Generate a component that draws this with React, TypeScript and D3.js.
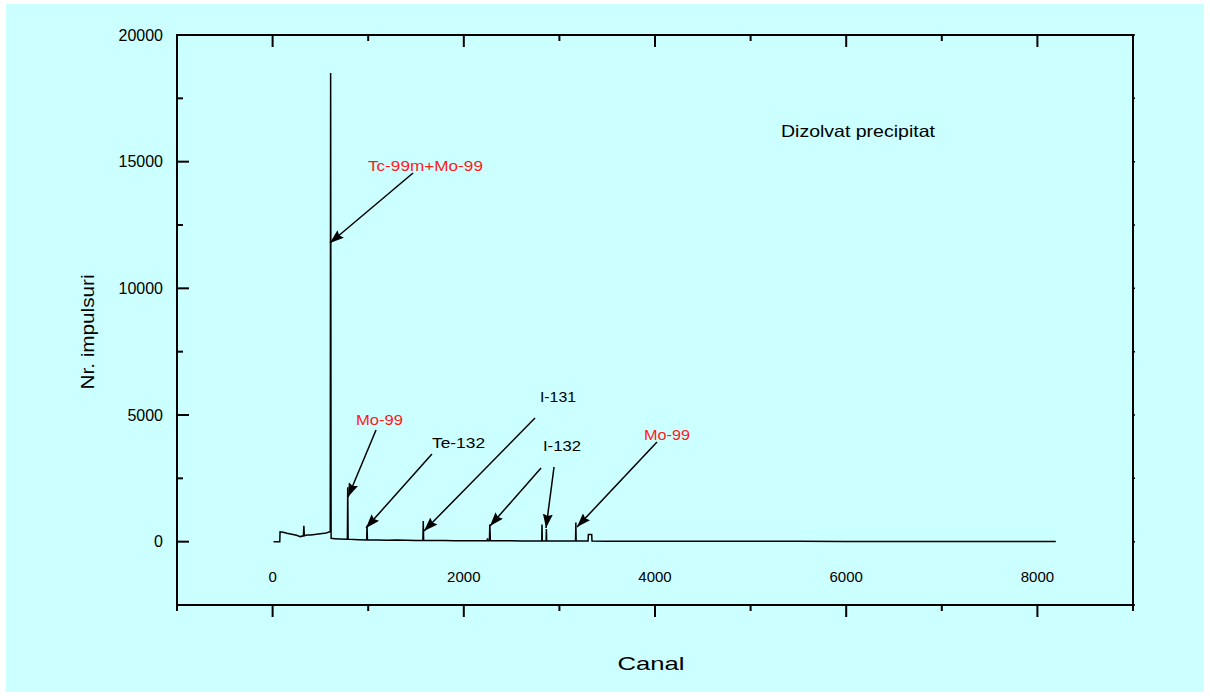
import * as d3 from 'd3';
import React from 'react';

// gamma spectrum
const channels = [
  10, 75, 78, 110, 150, 200, 250, 290, 322, 327, 332, 360, 400, 440, 480, 520, 560, 590, 603,
  607, 612, 650, 700, 782, 786, 790, 850, 900, 984, 988, 992, 1100, 1200, 1300, 1400, 1500,
  1572, 1576, 1580, 1700, 1800, 1900, 2000, 2100, 2200, 2245, 2248, 2251, 2268, 2272, 2278,
  2400, 2500, 2600, 2700, 2815, 2818, 2821, 2861, 2864, 2867, 3000, 3100, 3169, 3172, 3175,
  3300, 3303, 3338, 3341, 3500, 4000, 4500, 5000, 5500, 6000, 6500, 7000, 7500, 8000, 8192,
];
const counts = [
  0, 0, 390, 370, 330, 290, 250, 200, 230, 630, 230, 260, 260, 280, 300, 320, 340, 380, 400,
  18500, 130, 120, 110, 100, 2150, 100, 90, 80, 70, 640, 65, 70, 60, 65, 55, 50,
  50, 820, 50, 45, 50, 40, 40, 40, 40, 40, 130, 40, 40, 680, 50,
  35, 40, 30, 30, 30, 680, 30, 30, 500, 30, 30, 30, 30, 760, 30,
  30, 280, 280, 25, 20, 15, 15, 12, 12, 10, 10, 10, 10, 10, 10,
];

const xMajorTicks = [0, 2000, 4000, 6000, 8000];
const xMinorTicks = [-1000, 1000, 3000, 5000, 7000, 9000];
const yMajorTicks = [0, 5000, 10000, 15000, 20000];
const yMinorTicks = [-2500, 2500, 7500, 12500, 17500];

// peak labels: text, colour, position (channel, counts), rendered width
const labelTexts = ['Tc-99m+Mo-99', 'Mo-99', 'Te-132', 'I-131', 'I-132', 'Mo-99'];
const labelColors = ['#ff1a1a', '#ff1a1a', '#000', '#000', '#000', '#ff1a1a'];
const labelPositions = [
  [1599, 14630], [1118, 4605], [1945, 3697], [2985, 5513], [3027, 3579], [4126, 4013],
];
const labelWidths = [115, 47, 53, 36, 38, 46];
// arrows: from (channel, counts) to (channel, counts)
const arrows = [
  [1469, 14552, 600, 11789],
  [1082, 4408, 789, 1763],
  [1667, 3460, 977, 539],
  [2745, 4881, 1584, 421],
  [2808, 2908, 2274, 618],
  [2944, 2947, 2860, 539],
  [4021, 3934, 3184, 579],
];

const W = 1210;
const H = 696;
const left = 177;
const right = 1133;
const top = 35;
const bottom = 605;

export default function App() {
  const x = d3.scaleLinear().domain([-1000, 9000]).range([left, right]);
  const y = d3.scaleLinear().domain([-2500, 20000]).range([bottom, top]);

  const line = d3
    .line<number>()
    .x((_, i) => x(channels[i]))
    .y((d) => y(d));

  const font = 'Liberation Sans, Arial, sans-serif';

  return (
    <div style={{ position: 'absolute', left: 0, top: 0 }}>
      <svg width={W} height={H} style={{ display: 'block', background: '#fff' }}>
        <rect x={6} y={4} width={W - 12} height={H - 8} fill='#ccffff' />
        <defs>
          <marker id='head' viewBox='0 0 14 10' refX={14} refY={5} markerWidth={14} markerHeight={10}
            markerUnits='userSpaceOnUse' orient='auto'>
            <path d='M0,0 L14,5 L0,10 L2,5 Z' fill='#000' />
          </marker>
        </defs>

        {/* spectrum */}
        <path d={line(counts) ?? ''} fill='none' stroke='#000' strokeWidth={1.5} strokeLinejoin='miter' />

        {/* frame */}
        <rect x={left} y={top} width={right - left} height={bottom - top} fill='none' stroke='#000' strokeWidth={2} />

        {/* bottom & top ticks */}
        {xMajorTicks.map((t) => (
          <g key={'xm' + t}>
            <line x1={x(t)} x2={x(t)} y1={bottom} y2={bottom + 12} stroke='#000' strokeWidth={2} />
            <line x1={x(t)} x2={x(t)} y1={top} y2={top + 12} stroke='#000' strokeWidth={2} />
            <text x={x(t)} y={582} textAnchor='middle' fontFamily={font} fontSize={15}>{t}</text>
          </g>
        ))}
        {xMinorTicks.map((t) => (
          <g key={'xn' + t}>
            <line x1={x(t)} x2={x(t)} y1={bottom} y2={bottom + 6} stroke='#000' strokeWidth={2} />
            <line x1={x(t)} x2={x(t)} y1={top} y2={top + 6} stroke='#000' strokeWidth={2} />
          </g>
        ))}

        {/* left & right ticks */}
        {yMajorTicks.map((t) => (
          <g key={'ym' + t}>
            <line x1={left} x2={left + 12} y1={y(t)} y2={y(t)} stroke='#000' strokeWidth={2} />
            <line x1={right} x2={right + 2} y1={y(t)} y2={y(t)} stroke='#000' strokeWidth={1.5} />
            <text x={163} y={y(t) + 5.5} textAnchor='end' fontFamily={font} fontSize={16}>{t}</text>
          </g>
        ))}
        {yMinorTicks.map((t) => (
          <g key={'yn' + t}>
            <line x1={left} x2={left + 6} y1={y(t)} y2={y(t)} stroke='#000' strokeWidth={2} />
            <line x1={right} x2={right + 2} y1={y(t)} y2={y(t)} stroke='#000' strokeWidth={1.5} />
          </g>
        ))}

        {/* axis titles */}
        <text x={651} y={670} textAnchor='middle' fontFamily={font} fontSize={19}
          textLength={67} lengthAdjust='spacingAndGlyphs'>Canal</text>
        <text transform='translate(94,332) rotate(-90)' textAnchor='middle' fontFamily={font} fontSize={18}
          textLength={115} lengthAdjust='spacingAndGlyphs'>Nr. impulsuri</text>

        <text x={x(6123)} y={y(15974)} textAnchor='middle' fontFamily={font} fontSize={16.5}
          textLength={154} lengthAdjust='spacingAndGlyphs'>Dizolvat precipitat</text>

        {/* annotations */}
        {arrows.map((a, i) => (
          <line key={'a' + i} x1={x(a[0])} y1={y(a[1])} x2={x(a[2])} y2={y(a[3])}
            stroke='#000' strokeWidth={1.5} markerEnd='url(#head)' />
        ))}
        {labelTexts.map((s, i) => (
          <text key={'l' + i} x={x(labelPositions[i][0])} y={y(labelPositions[i][1])} textAnchor='middle'
            fontFamily={font} fontSize={15.5} fill={labelColors[i]}
            textLength={labelWidths[i]} lengthAdjust='spacingAndGlyphs'>{s}</text>
        ))}
      </svg>
    </div>
  );
}
